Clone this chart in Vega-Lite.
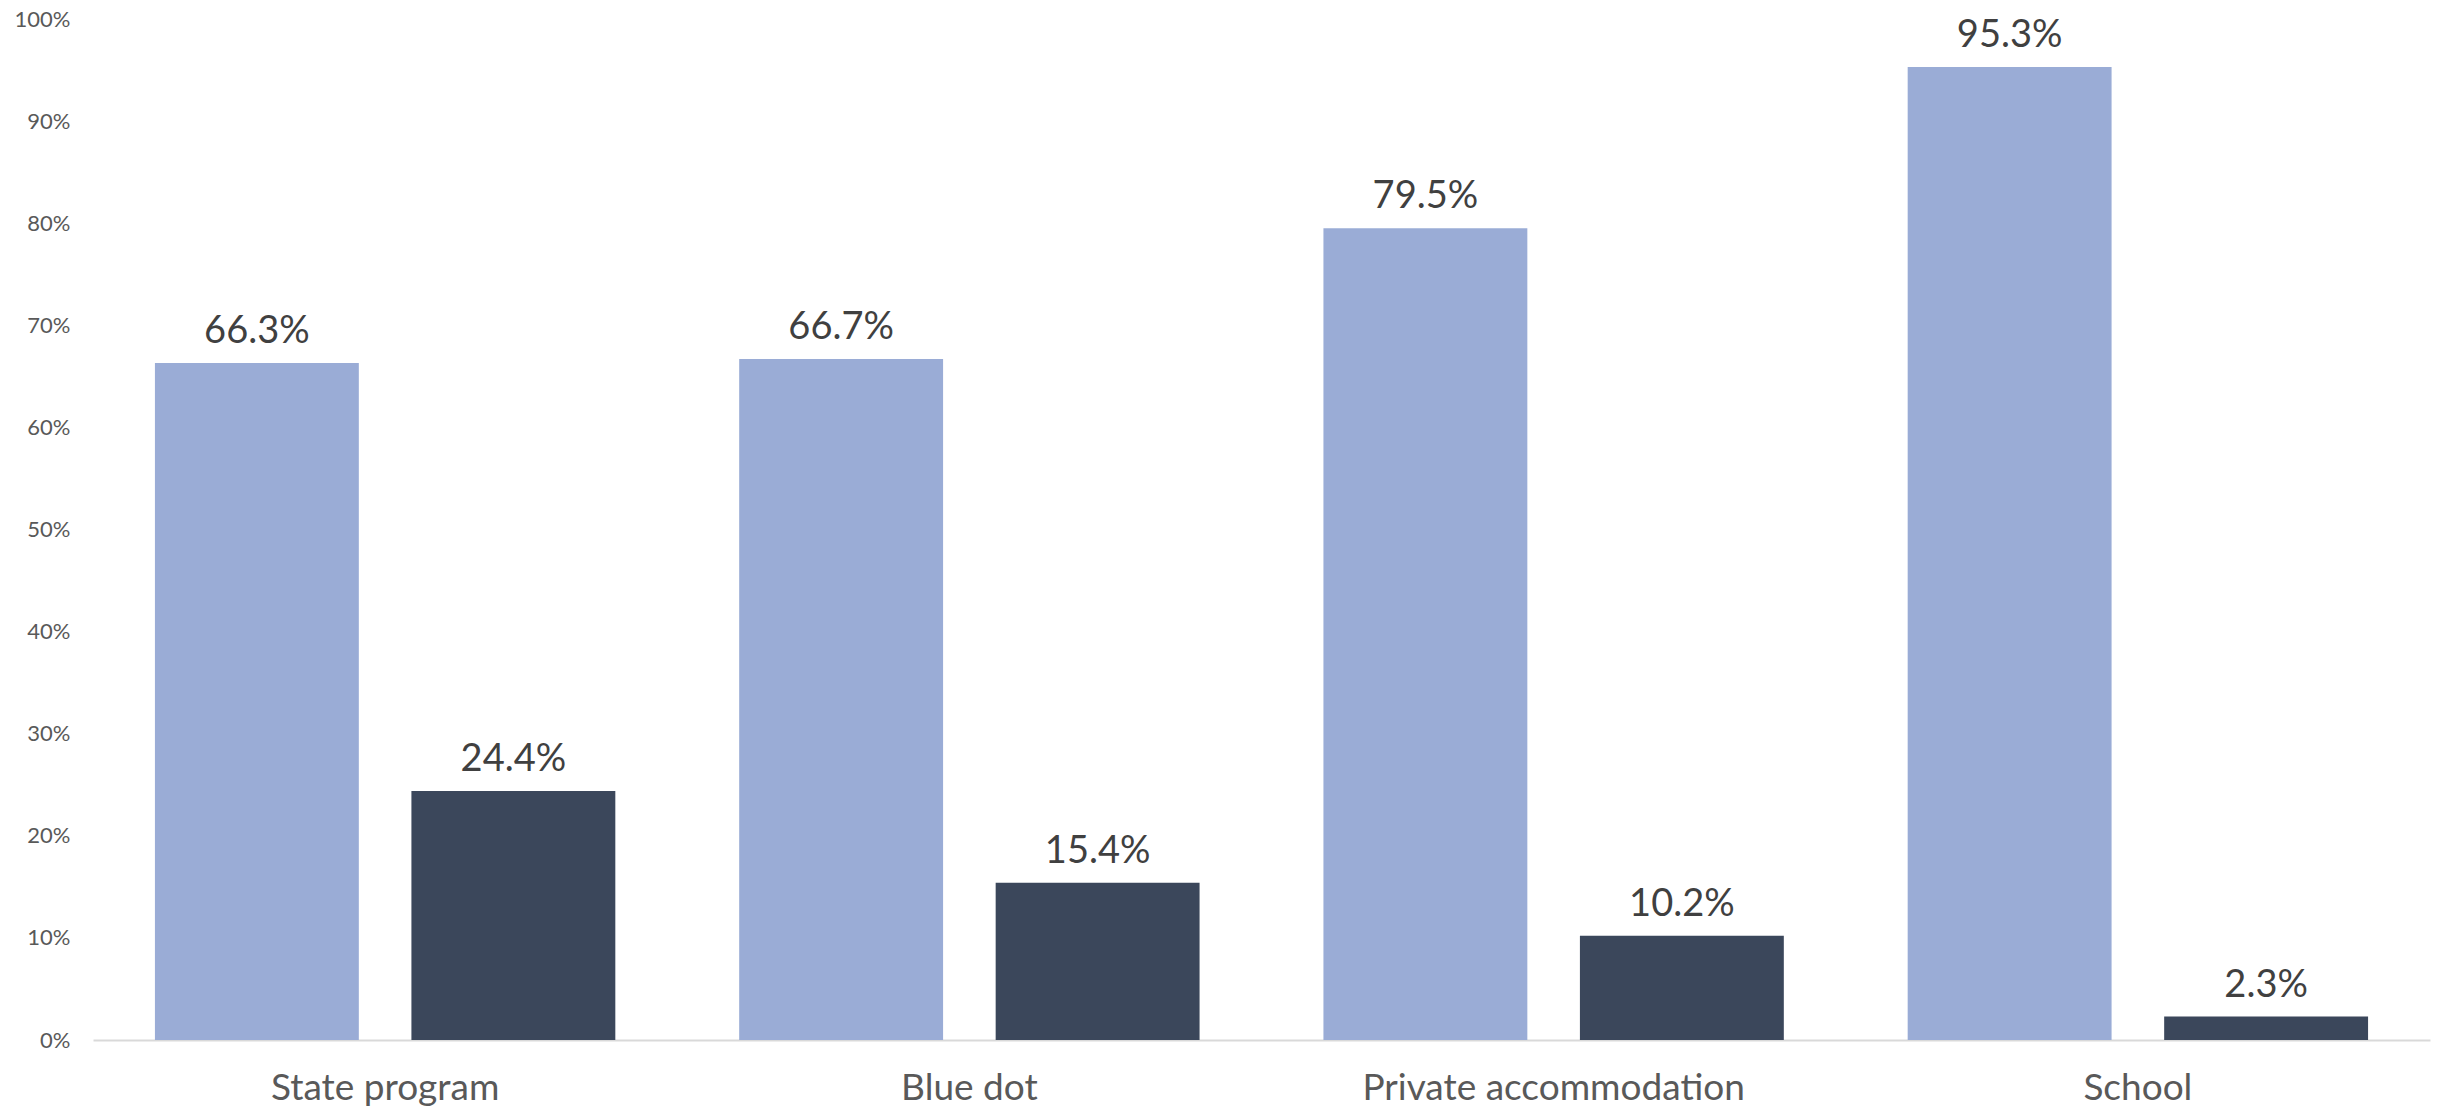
{
  "$schema": "https://vega.github.io/schema/vega-lite/v6.json",
  "width": 2337,
  "height": 1021,
  "autosize": "none",
  "padding": {"left": 93, "top": 19, "right": 10, "bottom": 71},
  "background": "white",
  "data": {
    "values": [
      {"category": "State program", "series": "A", "value": 0.663},
      {"category": "State program", "series": "B", "value": 0.244},
      {"category": "Blue dot", "series": "A", "value": 0.667},
      {"category": "Blue dot", "series": "B", "value": 0.154},
      {"category": "Private accommodation", "series": "A", "value": 0.795},
      {"category": "Private accommodation", "series": "B", "value": 0.102},
      {"category": "School", "series": "A", "value": 0.953},
      {"category": "School", "series": "B", "value": 0.023}
    ]
  },
  "config": {
    "view": {"stroke": null},
    "font": "Lato"
  },
  "encoding": {
    "x": {
      "field": "category",
      "type": "nominal",
      "sort": null,
      "title": null,
      "scale": {"paddingInner": 0.212, "paddingOuter": 0.106},
      "axis": {
        "labelAngle": 0,
        "labelFont": "Lato",
        "labelFontSize": 37,
        "labelColor": "#595959",
        "labelPadding": 30,
        "labelLimit": 0,
        "ticks": false,
        "domainColor": "#D9D9D9",
        "domainWidth": 2
      }
    },
    "xOffset": {
      "field": "series",
      "type": "nominal",
      "scale": {"paddingInner": 0.205, "paddingOuter": 0}
    },
    "y": {
      "field": "value",
      "type": "quantitative",
      "title": null,
      "scale": {"domain": [0, 1], "nice": false},
      "axis": {
        "values": [0, 0.1, 0.2, 0.3, 0.4, 0.5, 0.6, 0.7, 0.8, 0.9, 1],
        "format": ".0%",
        "labelFont": "Lato",
        "labelFontSize": 22,
        "labelColor": "#595959",
        "labelPadding": 23,
        "ticks": false,
        "domain": false,
        "grid": false
      }
    }
  },
  "layer": [
    {
      "mark": {"type": "bar"},
      "encoding": {
        "color": {
          "field": "series",
          "type": "nominal",
          "legend": null,
          "scale": {"domain": ["A", "B"], "range": ["#9AACD6", "#3B475B"]}
        }
      }
    },
    {
      "mark": {"type": "text", "baseline": "bottom", "dy": -12, "fontSize": 38, "font": "Lato", "color": "#404040"},
      "encoding": {
        "text": {"field": "value", "type": "quantitative", "format": ".1%"}
      }
    }
  ]
}
